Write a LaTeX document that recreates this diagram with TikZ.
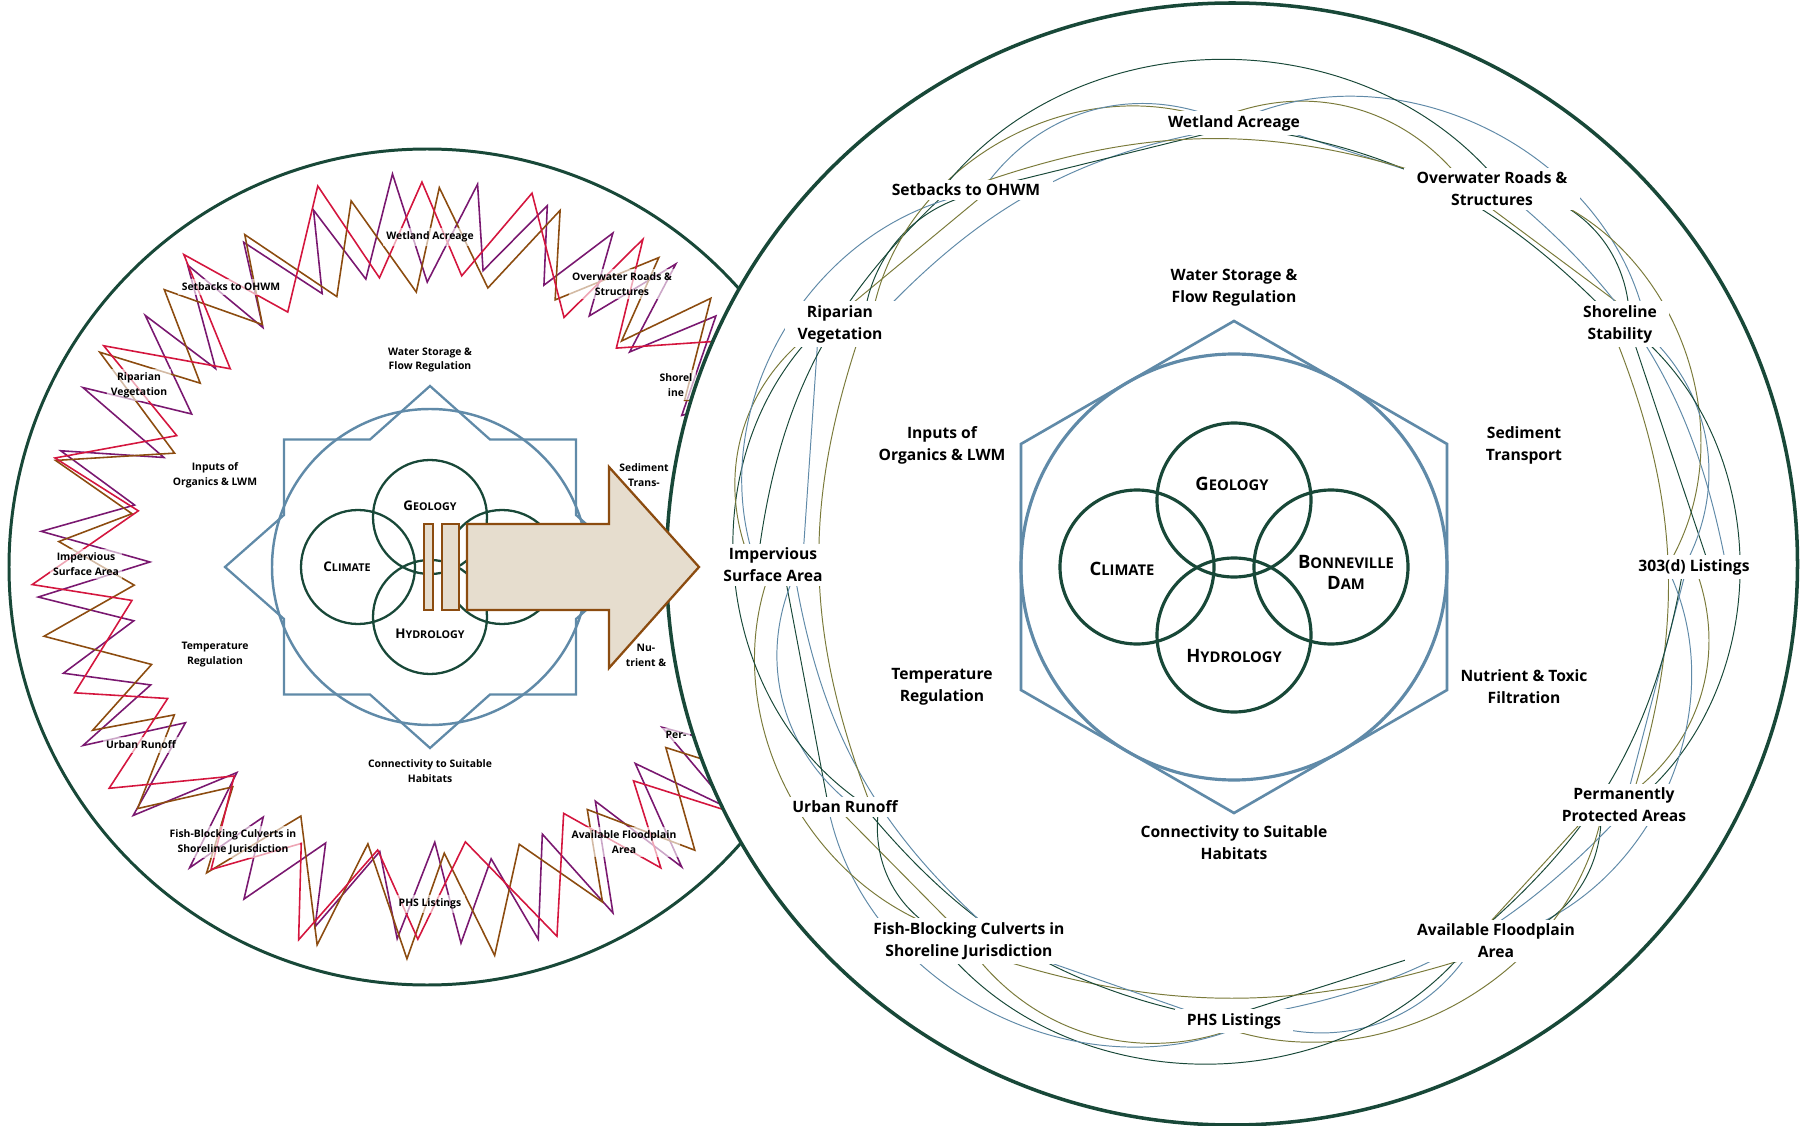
\documentclass[tikz,border=0pt]{standalone}
\usepackage{fontspec}
\setmainfont{Open Sans}
\usetikzlibrary{calc}
\pgfdeclarelayer{front}
\pgfsetlayers{main,front}

\definecolor{deepgreen}{RGB}{24,72,56}
\definecolor{steel}{RGB}{96,138,168}
\definecolor{olivearc}{RGB}{122,122,58}
\definecolor{rust}{RGB}{140,76,16}
\definecolor{sand}{RGB}{230,221,206}
\definecolor{plum}{RGB}{122,24,112}
\definecolor{crimson}{RGB}{212,22,62}

% fake small caps
\newcommand{\capsR}[2]{{\bfseries\fontsize{10.5}{13}\selectfont #1}{\bfseries\fontsize{8.4}{13}\selectfont #2}}
\newcommand{\capsL}[2]{{\bfseries\fontsize{7.6}{9.6}\selectfont #1}{\bfseries\fontsize{6.1}{9.6}\selectfont #2}}

\begin{document}
\begin{tikzpicture}[x=2cm,y=2cm,
    bigtxt/.style={font=\bfseries\fontsize{8.9}{12.5}\selectfont,align=center},
    smalltxt/.style={font=\bfseries\fontsize{5.9}{8.5}\selectfont,align=center},
    ring/.style={bigtxt,fill=white,inner xsep=7pt,inner ysep=2.5pt},
    ringL/.style={smalltxt,fill=white,fill opacity=0.62,text opacity=1,inner sep=2pt},
    lobe/.style={draw=deepgreen,line width=1.8pt},
    lobeL/.style={draw=deepgreen,line width=1.3pt},
    zig/.style={line width=0.9pt,line join=miter},
    arc0/.style={draw=steel,line width=0.55pt},
    arc1/.style={draw=olivearc,line width=0.55pt},
    arc2/.style={draw=deepgreen,line width=0.55pt},
    arrowpart/.style={draw=rust,fill=sand,line width=1.3pt}]

  \useasboundingbox (0,0) rectangle (18.02,-11.26);

  %==================== Left: crowded view ====================
  \begin{scope}[shift={(4.30,-5.67)}]

    % Outer circle
    \draw[deepgreen,line width=1.7pt] (-0.03,0) circle (4.18);

    % Zigzag ring, one line per colour
    \pgfmathsetseed{41}
    \foreach \col/\n/\ph in {plum/32/0,rust/24/4,crimson/20/9} {
      \pgfmathtruncatemacro{\nlast}{2*\n-1}
      \pgfmathsetmacro{\stp}{180/\n}
      \draw[zig,\col] (\ph:2.9) \foreach \k in {1,...,\nlast} {
        -- ({\ph+\k*\stp+0.3*\stp*(2*rnd-1)}:{2.9+0.95*mod(\k,2)+0.15*(2*rnd-1)})
      } -- cycle;
    }

    % Ring labels on half-clear boxes
    \foreach \nm/\xy/\txt in {wetL/{0,3.30}/Wetland Acreage,
        ovrL/{1.92,2.83}/Overwater Roads \&\\Structures,
        shoreL/{2.46,1.82}/Shorel\\ine,
        perL/{2.46,-1.68}/Per-,
        floodL/{1.94,-2.75}/Available Floodplain\\Area,
        phsL/{0,-3.37}/PHS Listings,
        fishL/{-1.97,-2.75}/Fish-Blocking Culverts in\\Shoreline Jurisdiction,
        urbanL/{-2.89,-1.78}/Urban Runoff,
        impL/{-3.44,0.03}/Impervious\\Surface Area,
        ripL/{-2.91,1.82}/Riparian\\Vegetation,
        setbL/{-1.99,2.80}/Setbacks to OHWM} {
      \node[ringL] (\nm) at (\xy) {\txt};
    }

    % Function labels
    \node[smalltxt] (waterL) at (0,2.07) {Water Storage \&\\Flow Regulation};
    \node[smalltxt] (inputL) at (-2.15,0.92) {Inputs of\\Organics \& LWM};
    \node[smalltxt] (sedL) at (2.14,0.92) {Sediment\\Trans-};
    \node[smalltxt] (tempL) at (-2.15,-0.88) {Temperature\\Regulation};
    \node[smalltxt] (nutL) at (2.16,-0.88) {Nu-\\trient \&};
    \node[smalltxt] (connL) at (0,-2.04) {Connectivity to Suitable\\Habitats};

    % Star and circle
    \draw[steel,line width=1.3pt] (-1.46,1.275) -- (-0.6,1.275) -- (0,1.81)
      -- (0.6,1.275) -- (1.46,1.275) -- (1.46,0.52) -- (2.05,0) -- (1.46,-0.52)
      -- (1.46,-1.275) -- (0.6,-1.275) -- (0,-1.81) -- (-0.6,-1.275)
      -- (-1.46,-1.275) -- (-1.46,-0.52) -- (-2.05,0) -- (-1.46,0.52) -- cycle;
    \draw[steel,line width=1.4pt] (0,0) circle (1.58);

    % Driver circles
    \foreach \p in {{-0.72,0},{0,0.5},{0.72,0},{0,-0.5}} {
      \draw[lobeL] (\p) circle (0.57);
    }
    \node (climL) at (-0.83,0) {\capsL{C}{LIMATE}};
    \node (geoL) at (0,0.61) {\capsL{G}{EOLOGY}};
    \node (hydL) at (0,-0.67) {\capsL{H}{YDROLOGY}};

  \end{scope}

  %==================== Right: clean view ====================
  \draw[deepgreen,line width=2pt,fill=white] (12.32,-5.64) ellipse (5.655 and 5.61);

  \begin{scope}[shift={(12.34,-5.67)}]

    % Hexagon and circle
    \draw[steel,line width=1.5pt] (90:2.46) -- (30:2.46) -- (-30:2.46)
      -- (-90:2.46) -- (-150:2.46) -- (150:2.46) -- cycle;
    \draw[steel,line width=1.8pt] (0,0) circle (2.13);

    % Driver circles
    \foreach \p in {{-0.97,0},{0,0.67},{0.97,0},{0,-0.68}} {
      \draw[lobe] (\p) circle (0.77);
    }
    \node (clim) at (-1.12,-0.02) {\capsR{C}{LIMATE}};
    \node (geo) at (-0.02,0.83) {\capsR{G}{EOLOGY}};
    \node[align=center] (dam) at (1.12,-0.05) {\capsR{B}{ONNEVILLE}\\\capsR{D}{AM}};
    \node (hyd) at (0,-0.89) {\capsR{H}{YDROLOGY}};

    % Function labels
    \node[bigtxt] (water) at (0,2.79) {Water Storage \&\\Flow Regulation};
    \node[bigtxt] (input) at (-2.92,1.22) {Inputs of\\Organics \& LWM};
    \node[bigtxt] (sed) at (2.90,1.22) {Sediment\\Transport};
    \node[bigtxt] (temp) at (-2.92,-1.20) {Temperature\\Regulation};
    \node[bigtxt] (nut) at (2.90,-1.20) {Nutrient \& Toxic\\Filtration};
    \node[bigtxt] (conn) at (0,-2.76) {Connectivity to Suitable\\Habitats};

    % Ring labels, clockwise from the top
    \begin{pgfonlayer}{front}
    \foreach \i/\xy/\txt in {0/{0,4.44}/Wetland Acreage,
        1/{2.58,3.78}/Overwater Roads \&\\Structures,
        2/{3.86,2.43}/Shoreline\\Stability,
        3/{4.60,0}/303(d) Listings,
        4/{3.90,-2.38}/Permanently\\Protected Areas,
        5/{2.62,-3.74}/Available Floodplain\\Area,
        6/{0,-4.54}/PHS Listings,
        7/{-2.65,-3.74}/Fish-Blocking Culverts in\\Shoreline Jurisdiction,
        8/{-3.89,-2.40}/Urban Runoff,
        9/{-4.61,0.02}/Impervious\\Surface Area,
        10/{-3.94,2.43}/Riparian\\Vegetation,
        11/{-2.68,3.77}/Setbacks to OHWM} {
      \node[ring] (o\i) at (\xy) {\txt};
    }
    \end{pgfonlayer}

    % Links to the next label and the one after it
    % (ends sit inside the white boxes, so they fan out)
    \pgfmathsetseed{7}
    \foreach \i in {0,...,11} {
      \pgfmathtruncatemacro{\j}{mod(\i+1,12)}
      \pgfmathtruncatemacro{\k}{mod(\i+2,12)}
      \pgfmathtruncatemacro{\ka}{mod(\i,3)}
      \pgfmathtruncatemacro{\kb}{mod(\i+1,3)}
      \pgfmathtruncatemacro{\kc}{mod(\i+2,3)}
      \pgfmathsetmacro{\sa}{0.7*rnd-0.35}
      \pgfmathsetmacro{\sb}{0.7*rnd-0.35}
      \pgfmathsetmacro{\sc}{0.7*rnd-0.35}
      \pgfmathsetmacro{\sd}{0.7*rnd-0.35}
      \draw[arc\ka] ($(o\i)+(\sa,0)$) -- ($(o\j)+(\sb,0)$);
      \draw[arc\kb] ($(o\i)+(\sb,0)$) to[bend left=40] ($(o\j)+(\sc,0)$);
      \draw[arc\kc] ($(o\i)+(\sc,0)$) to[bend left=20] ($(o\k)+(\sd,0)$);
      \draw[arc\ka] ($(o\i)+(\sd,0)$) to[bend left=52] ($(o\k)+(\sa,0)$);
    }

  \end{scope}

  %==================== Arrow between the views ====================
  \begin{pgfonlayer}{front}
  \begin{scope}[shift={(4.30,-5.67)}]
    \draw[arrowpart] (-0.06,0.43) rectangle (0.03,-0.43);
    \draw[arrowpart] (0.12,0.43) rectangle (0.29,-0.43);
    \draw[arrowpart] (0.37,0.43) -- (1.79,0.43) -- (1.79,1.00) -- (2.69,0)
      -- (1.79,-1.01) -- (1.79,-0.43) -- (0.37,-0.43) -- cycle;
  \end{scope}
  \end{pgfonlayer}

\end{tikzpicture}
\end{document}
